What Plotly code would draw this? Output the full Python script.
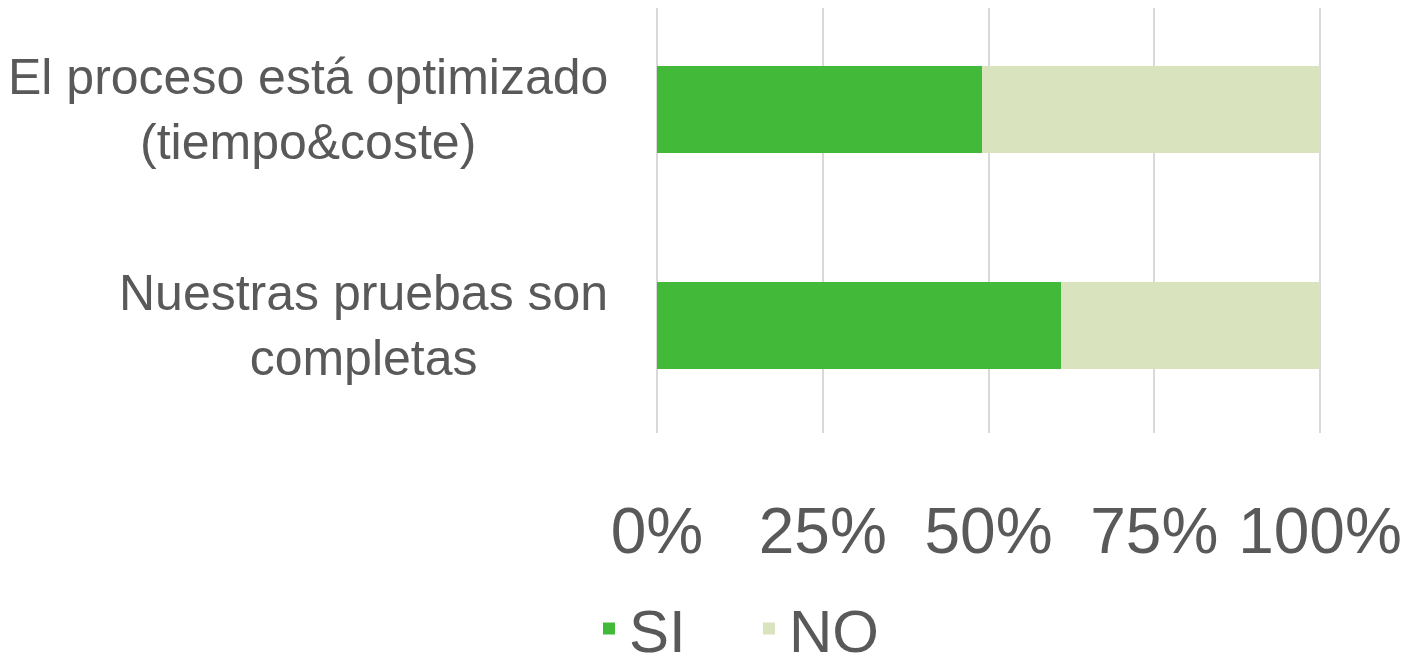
import plotly.graph_objects as go

categories = ["Nuestras pruebas son<br>completas", "El proceso está optimizado<br>(tiempo&coste)"]
si_values = [61, 49]
no_values = [39, 51]
x_ticks = [0, 25, 50, 75, 100]
x_tick_labels = ["0%", "25%", "50%", "75%", "100%"]

TEXT = "#595959"
FONT = "Liberation Sans, Arial, sans-serif"

ypos = list(range(len(categories)))
fig = go.Figure()
fig.add_trace(go.Bar(y=ypos, x=si_values, name="SI", orientation="h", width=0.4,
                     marker=dict(color="#43B939", line=dict(width=0))))
fig.add_trace(go.Bar(y=ypos, x=no_values, name="NO", orientation="h", width=0.4,
                     marker=dict(color="#D9E4BF", line=dict(width=0))))

for i, c in enumerate(categories):
    fig.add_annotation(x=0, xref="paper", y=i, yref="y", text=c, showarrow=False,
                       xanchor="right", yanchor="middle", align="center", xshift=-45,
                       font=dict(family=FONT, size=50, color=TEXT))

fig.update_layout(
    barmode="stack",
    width=1411, height=666,
    margin=dict(l=647, r=97, t=0, b=239),
    paper_bgcolor="white", plot_bgcolor="white",
    font=dict(family=FONT, color=TEXT),
    xaxis=dict(range=[-0.3, 100.3], tickvals=x_ticks, ticktext=x_tick_labels,
               showgrid=True, gridcolor="#D9D9D9", gridwidth=2, zeroline=False,
               showline=False, ticks="", ticklabelstandoff=55,
               tickfont=dict(family=FONT, size=64, color=TEXT), fixedrange=True),
    yaxis=dict(range=[-0.498, 1.47], showticklabels=False, showgrid=False, zeroline=False,
               showline=False, ticks=""),
    legend=dict(orientation="h", x=-0.099, xanchor="left", y=-0.461, yanchor="middle",
                font=dict(family=FONT, size=60, color=TEXT),
                entrywidth=115, entrywidthmode="pixels",
                bgcolor="rgba(0,0,0,0)", traceorder="normal"),
    showlegend=True,
)

fig.write_html("out.html")
